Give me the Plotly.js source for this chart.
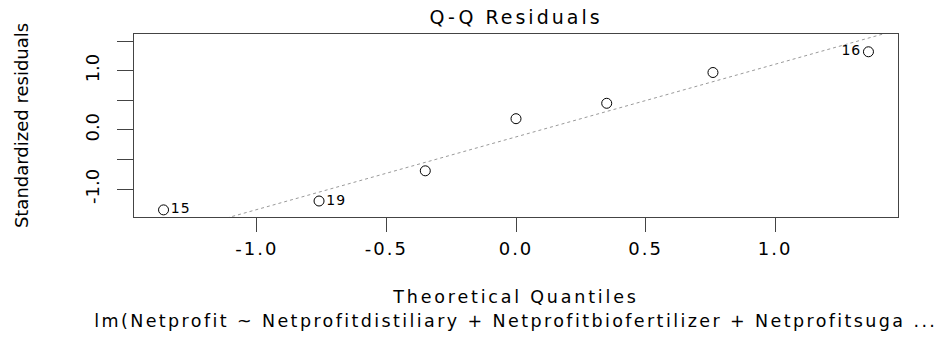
<!DOCTYPE html>
<html>
<head>
<meta charset="utf-8">
<script src="https://cdn.plot.ly/plotly-3.0.1.min.js"></script>
<style>
  html, body { margin: 0; padding: 0; background: #ffffff; }
  #chart { width: 940px; height: 337px; }
  /* the reference text is horizontally stretched: widen horizontal texts a little */
  #chart text.gtitle { letter-spacing: 3px; }
  #chart text.xtitle { letter-spacing: 2.8px; }
  #chart g.xtick text { letter-spacing: 2px; }
  #chart text.annotation-text { letter-spacing: 2.4px; }
  #chart g.textpoint text { letter-spacing: 1px; }
</style>
</head>
<body>
<div id="chart"></div>
<script>
// Theoretical normal quantiles (x) and standardized residuals (y)
const theoreticalQuantiles = [-1.36, -0.76, -0.35, 0.00, 0.35, 0.76, 1.36];
const standardizedResiduals = [-1.35, -1.20, -0.69, 0.19, 0.45, 0.97, 1.32];
const pointLabels = ['15', '19', '', '', '', '', '16'];
const labelSide = ['middle right', 'middle right', 'middle right', 'middle right', 'middle right', 'middle right', 'middle left'];

const xTickValues = [-1.0, -0.5, 0.0, 0.5, 1.0];
const xTickLabels = ['-1.0', '-0.5', '0.0', '0.5', '1.0'];
const yTickValues = [-1.0, -0.5, 0.0, 0.5, 1.0, 1.5];
const yTickLabels = ['-1.0', '', '0.0', '', '1.0', ''];

const chartTitle = 'Q-Q Residuals';
const xTitle = 'Theoretical Quantiles';
const yTitle = 'Standardized residuals';
const captionText = 'lm(Netprofit ~ Netprofitdistiliary + Netprofitbiofertilizer + Netprofitsuga ...';

// qqline: line through the first and third quartiles (as R's qqline does)
function quantile7(arr, p) {
  const s = arr.slice().sort((a, b) => a - b);
  const h = (s.length - 1) * p;
  const lo = Math.floor(h), hi = Math.ceil(h);
  return s[lo] + (h - lo) * (s[hi] - s[lo]);
}
const y1 = quantile7(standardizedResiduals, 0.25), y3 = quantile7(standardizedResiduals, 0.75);
const z = 0.6744897501960817; // qnorm(0.75)
const slope = (y3 - y1) / (2 * z);
const intercept = y1 + slope * z;

const xRange = [-1.474, 1.474];
const yRange = [-1.47, 1.62];
const lineX = [xRange[0], xRange[1]];
const lineY = lineX.map(v => intercept + slope * v);

const FONT = 'DejaVu Sans, Arial, sans-serif';

const traces = [
  {
    x: lineX, y: lineY, type: 'scatter', mode: 'lines',
    line: { color: '#9a9a9a', width: 1, dash: 'dot' },
    hoverinfo: 'skip', showlegend: false
  },
  {
    x: theoreticalQuantiles, y: standardizedResiduals, type: 'scatter', mode: 'markers+text',
    marker: { symbol: 'circle-open', size: 10, color: '#000000', line: { width: 1, color: '#000000' } },
    text: pointLabels, textposition: labelSide,
    textfont: { family: FONT, size: 14, color: '#000000' },
    cliponaxis: false, showlegend: false
  }
];

const layout = {
  width: 940, height: 337,
  margin: { l: 134, r: 42, t: 34, b: 120, pad: 0 },
  paper_bgcolor: '#ffffff', plot_bgcolor: '#ffffff',
  showlegend: false,
  font: { family: FONT, size: 18, color: '#000000' },
  title: {
    text: chartTitle, font: { family: FONT, size: 19, color: '#000000' },
    xref: 'paper', x: 0.5, xanchor: 'center',
    yref: 'container', y: 1 - 17 / 337, yanchor: 'middle'
  },
  xaxis: {
    range: xRange, showgrid: false, zeroline: false,
    showline: true, mirror: true, linecolor: '#444444', linewidth: 1,
    ticks: 'outside', ticklen: 14, tickcolor: '#444444', tickwidth: 1,
    tickvals: xTickValues, ticktext: xTickLabels,
    tickfont: { family: FONT, size: 18, color: '#000000' },
    ticklabelstandoff: 1,
    title: { text: xTitle, font: { family: FONT, size: 17.5, color: '#000000' }, standoff: 33 },
    automargin: false
  },
  yaxis: {
    range: yRange, showgrid: false, zeroline: false,
    showline: true, mirror: true, linecolor: '#444444', linewidth: 1,
    ticks: 'outside', ticklen: 16, tickcolor: '#444444', tickwidth: 1,
    tickvals: yTickValues, ticktext: yTickLabels, tickangle: -90,
    tickfont: { family: FONT, size: 18, color: '#000000' },
    ticklabelstandoff: 11,
    title: { text: yTitle, font: { family: FONT, size: 18, color: '#000000' }, standoff: 48 },
    automargin: false
  },
  annotations: [
    {
      text: captionText, xref: 'paper', yref: 'paper', x: 0.5, y: 0,
      xanchor: 'center', yanchor: 'middle', yshift: -104, showarrow: false,
      font: { family: FONT, size: 17.5, color: '#000000' }
    }
  ]
};

Plotly.newPlot('chart', traces, layout, { displayModeBar: false, staticPlot: true });
</script>
</body>
</html>
